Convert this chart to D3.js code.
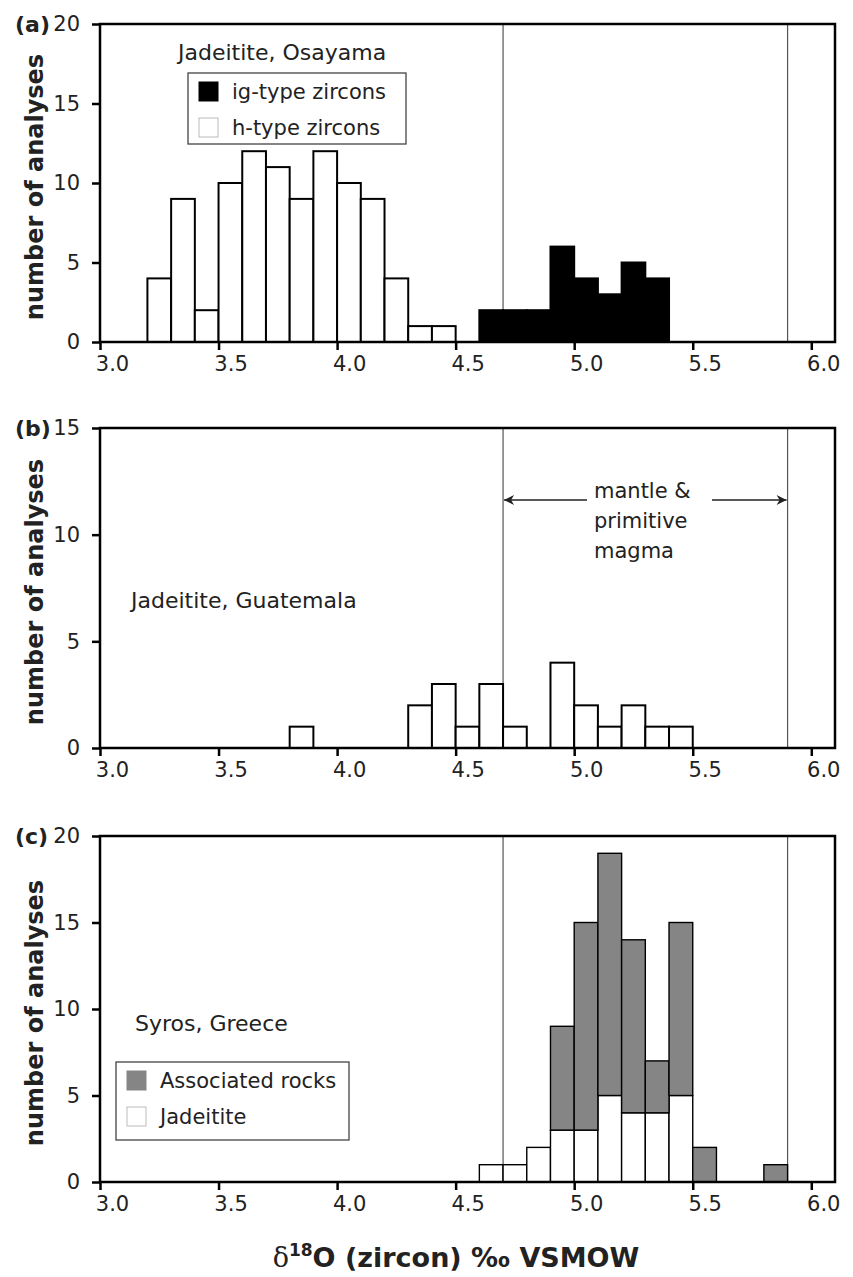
<!DOCTYPE html>
<html>
<head>
<meta charset="utf-8">
<script src="https://cdn.jsdelivr.net/npm/d3@7"></script>
<style>
  body { margin: 0; background: #fff; }
  svg { display: block; }
  text { font-family: "DejaVu Sans", Verdana, sans-serif; fill: #222; }
</style>
</head>
<body>
<svg id="chart" width="853" height="1277"></svg>
<script>
// ---- data (bin left edges, 0.1 wide) ----
var xTicks = [3.0, 3.5, 4.0, 4.5, 5.0, 5.5, 6.0];
var binWidth = 0.1;
var mantleRange = [4.7, 5.9];

// (a) Osayama
var osayamaHBins = [3.2, 3.3, 3.4, 3.5, 3.6, 3.7, 3.8, 3.9, 4.0, 4.1, 4.2, 4.3, 4.4];
var osayamaHCounts = [4, 9, 2, 10, 12, 11, 9, 12, 10, 9, 4, 1, 1];
var osayamaIgBins = [4.6, 4.7, 4.8, 4.9, 5.0, 5.1, 5.2, 5.3];
var osayamaIgCounts = [2, 2, 2, 6, 4, 3, 5, 4];

// (b) Guatemala
var guatemalaBins = [3.8, 4.3, 4.4, 4.5, 4.6, 4.7, 4.9, 5.0, 5.1, 5.2, 5.3, 5.4];
var guatemalaCounts = [1, 2, 3, 1, 3, 1, 4, 2, 1, 2, 1, 1];

// (c) Syros, stacked: jadeitite at the bottom, associated rocks on top
var syrosBins = [4.6, 4.7, 4.8, 4.9, 5.0, 5.1, 5.2, 5.3, 5.4, 5.5, 5.8];
var syrosJadeitite = [1, 1, 2, 3, 3, 5, 4, 4, 5, 0, 0];
var syrosAssociated = [0, 0, 0, 6, 12, 14, 10, 3, 10, 2, 1];

var svg = d3.select("#chart"),
  left = 100,
  right = 835,
  grey = "#858585";

var x = d3.scaleLinear().domain([3.0, 6.1]).range([left, right]);

var panels = [
  { letter: "(a)", top: 24, bottom: 342, ymax: 20 },
  { letter: "(b)", top: 428, bottom: 748, ymax: 15 },
  { letter: "(c)", top: 836, bottom: 1182, ymax: 20 }
];

panels.forEach(function(p) {
  p.y = d3.scaleLinear().domain([0, p.ymax]).range([p.bottom, p.top]);
  p.g = svg.append("g");
});

function mantleLines(p) {
  p.g.selectAll("line.mantle").data(mantleRange).enter().append("line")
    .attr("class", "mantle")
    .attr("x1", function(d) { return x(d); })
    .attr("x2", function(d) { return x(d); })
    .attr("y1", p.top).attr("y2", p.bottom)
    .attr("stroke", "#555").attr("stroke-width", 1.2);
}

function bars(p, bins, counts, base, fill, sw) {
  var rows = bins.map(function(b, i) {
    return { x0: b, n: counts[i], b0: base ? base[i] : 0 };
  }).filter(function(d) { return d.n > 0; });
  p.g.append("g").selectAll("rect").data(rows).enter().append("rect")
    .attr("x", function(d) { return x(d.x0); })
    .attr("width", function(d) { return x(d.x0 + binWidth) - x(d.x0); })
    .attr("y", function(d) { return p.y(d.b0 + d.n); })
    .attr("height", function(d) { return p.y(d.b0) - p.y(d.b0 + d.n); })
    .attr("fill", fill)
    .attr("stroke", "#000")
    .attr("stroke-width", sw);
}

function frame(p) {
  var xAxis = d3.axisBottom(x).tickValues(xTicks).tickSize(8).tickPadding(6)
    .tickFormat(d3.format(".1f"));
  var gx = p.g.append("g").attr("transform", "translate(0," + p.bottom + ")").call(xAxis);
  gx.select(".domain").remove();
  gx.selectAll(".tick line").attr("stroke", "#000").attr("stroke-width", 2.5);
  gx.selectAll(".tick text").attr("dx", 12).style("font-size", "21px").style("fill", "#222");

  var yAxis = d3.axisLeft(p.y).tickValues(d3.range(0, p.ymax + 1, 5)).tickSize(8).tickPadding(12);
  var gy = p.g.append("g").attr("transform", "translate(" + left + ",0)").call(yAxis);
  gy.select(".domain").remove();
  gy.selectAll(".tick line").attr("stroke", "#000").attr("stroke-width", 2.5);
  gy.selectAll(".tick text").style("font-size", "21px").style("fill", "#222");

  p.g.append("rect")
    .attr("x", left).attr("y", p.top)
    .attr("width", right - left).attr("height", p.bottom - p.top)
    .attr("fill", "none").attr("stroke", "#000").attr("stroke-width", 2.5);

  p.g.append("text")
    .attr("x", 15).attr("y", p.top + 8)
    .style("font-size", "22px").style("font-weight", "bold")
    .text(p.letter);

  p.g.append("text")
    .attr("transform", "translate(43," + ((p.top + p.bottom) / 2 + 4) + ") rotate(-90)")
    .attr("text-anchor", "middle")
    .style("font-size", "24px").style("font-weight", "bold")
    .text("number of analyses");
}

function legend(g, bx, by, bw, bh, items) {
  g.append("rect").attr("x", bx).attr("y", by).attr("width", bw).attr("height", bh)
    .attr("fill", "#fff").attr("stroke", "#444").attr("stroke-width", 1.3);
  items.forEach(function(it, i) {
    g.append("rect")
      .attr("x", bx + 11).attr("y", by + 9 + i * 36)
      .attr("width", 19).attr("height", 19)
      .attr("fill", it.fill).attr("stroke", it.stroke).attr("stroke-width", 1);
    g.append("text")
      .attr("x", bx + 44).attr("y", by + 26 + i * 36)
      .style("font-size", "21px")
      .text(it.label);
  });
}

// ---- panel (a) ----
var pa = panels[0];
mantleLines(pa);
bars(pa, osayamaHBins, osayamaHCounts, null, "#fff", 2);
bars(pa, osayamaIgBins, osayamaIgCounts, null, "#000", 2);
frame(pa);
pa.g.append("text").attr("x", 178).attr("y", 60).style("font-size", "22px").text("Jadeitite, Osayama");
legend(pa.g, 188, 73, 218, 71, [
  { fill: "#000", stroke: "#000", label: "ig-type zircons" },
  { fill: "#fff", stroke: "#bbb", label: "h-type zircons" }
]);

// ---- panel (b) ----
var pb = panels[1];
mantleLines(pb);
bars(pb, guatemalaBins, guatemalaCounts, null, "#fff", 2);
frame(pb);
pb.g.append("text").attr("x", 131).attr("y", 608).style("font-size", "22px").text("Jadeitite, Guatemala");

var arrowY = 500;
svg.append("defs").append("marker")
  .attr("id", "head").attr("viewBox", "0 0 12 12")
  .attr("refX", 11).attr("refY", 6)
  .attr("markerWidth", 12).attr("markerHeight", 12)
  .attr("markerUnits", "userSpaceOnUse")
  .attr("orient", "auto")
  .append("path").attr("d", "M1,1 L11,6 L1,11 L4,6 Z").attr("fill", "#222");
pb.g.append("line").attr("x1", 587).attr("x2", x(mantleRange[0]) + 1)
  .attr("y1", arrowY).attr("y2", arrowY)
  .attr("stroke", "#222").attr("stroke-width", 1.3).attr("marker-end", "url(#head)");
pb.g.append("line").attr("x1", 712).attr("x2", x(mantleRange[1]) - 1)
  .attr("y1", arrowY).attr("y2", arrowY)
  .attr("stroke", "#222").attr("stroke-width", 1.3).attr("marker-end", "url(#head)");
var mt = pb.g.append("text").style("font-size", "21px");
["mantle &", "primitive", "magma"].forEach(function(s, i) {
  mt.append("tspan").attr("x", 594).attr("y", 498 + i * 30).text(s);
});

// ---- panel (c) ----
var pc = panels[2];
mantleLines(pc);
bars(pc, syrosBins, syrosJadeitite, null, "#fff", 1.4);
bars(pc, syrosBins, syrosAssociated, syrosJadeitite, grey, 1.4);
frame(pc);
pc.g.append("text").attr("x", 135).attr("y", 1031).style("font-size", "22px").text("Syros, Greece");
legend(pc.g, 116, 1062, 233, 78, [
  { fill: grey, stroke: grey, label: "Associated rocks" },
  { fill: "#fff", stroke: "#bbb", label: "Jadeitite" }
]);

// ---- shared x title ----
var xt = svg.append("text")
  .attr("x", 456).attr("y", 1267)
  .attr("text-anchor", "middle")
  .style("font-size", "27px").style("font-weight", "bold");
xt.append("tspan").style("font-weight", "normal")
  .style("font-family", "'DejaVu Serif', 'Liberation Serif', serif").text("\u03b4");
xt.append("tspan").attr("dy", -11).style("font-size", "17px").text("18");
xt.append("tspan").attr("dy", 11).text("O (zircon) \u2030 VSMOW");
</script>
</body>
</html>
